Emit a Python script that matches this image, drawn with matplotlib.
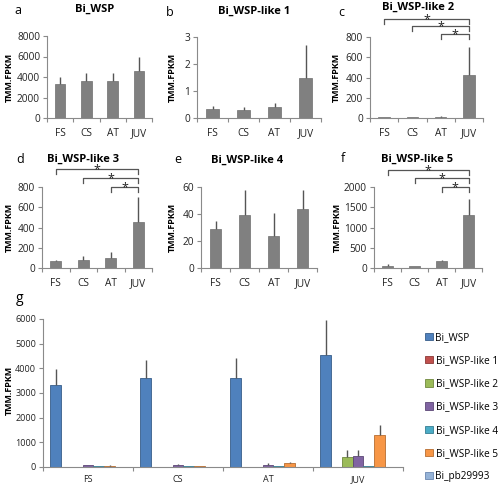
import matplotlib
matplotlib.use("Agg")
import matplotlib.pyplot as plt
import numpy as np

plt.rcParams["font.family"] = ["Open Sans", "DejaVu Sans"]

W, H = 500, 488

stages = ["FS", "CS", "AT", "JUV"]

genes = ["Bi_WSP", "Bi_WSP-like 1", "Bi_WSP-like 2", "Bi_WSP-like 3",
         "Bi_WSP-like 4", "Bi_WSP-like 5", "Bi_pb29993"]

# mean expression per stage (TMM.FPKM)
wsp = [3330, 3600, 3620, 4560]
wsp_like1 = [0.33, 0.28, 0.42, 1.5]
wsp_like2 = [5, 5, 10, 420]
wsp_like3 = [65, 75, 95, 450]
wsp_like4 = [29, 39, 24, 44]
wsp_like5 = [60, 40, 170, 1300]
pb29993 = [12, 10, 10, 12]

# upper error (SD)
wsp_err = [650, 750, 780, 1400]
wsp_like1_err = [0.12, 0.14, 0.13, 1.2]
wsp_like2_err = [3, 3, 10, 285]
wsp_like3_err = [15, 40, 60, 250]
wsp_like4_err = [6, 19, 17, 14]
wsp_like5_err = [40, 15, 25, 400]
pb29993_err = [3, 3, 3, 3]

means = [wsp, wsp_like1, wsp_like2, wsp_like3, wsp_like4, wsp_like5, pb29993]
errs = [wsp_err, wsp_like1_err, wsp_like2_err, wsp_like3_err,
        wsp_like4_err, wsp_like5_err, pb29993_err]

small_ylims = [8000, 3, 800, 800, 60, 2000]
small_yticks = [np.arange(0, 8001, 2000), np.arange(0, 4, 1),
                np.arange(0, 801, 200), np.arange(0, 801, 200),
                np.arange(0, 61, 20), np.arange(0, 2001, 500)]

g_colors = ["#4F81BD", "#C0504D", "#9BBB59", "#8064A2",
            "#4BACC6", "#F79646", "#95B3D7"]
g_edges = ["#385D8A", "#8C3836", "#71893F", "#5C4776",
           "#357D91", "#B66D31", "#6A86B0"]

SPINE = "#8a8a8a"
ERR = "#555555"


def rect(x0, x1, ytop, ybot):
    return [x0 / W, 1 - ybot / H, (x1 - x0) / W, (ybot - ytop) / H]


def ftext(x, y, s, **kw):
    fig.text(x / W, 1 - y / H, s, **kw)


def style_axes(ax, ncat):
    for side in ("top", "right"):
        ax.spines[side].set_visible(False)
    for side in ("left", "bottom"):
        ax.spines[side].set_color(SPINE)
        ax.spines[side].set_linewidth(0.8)
    ax.set_xlim(-0.5, ncat - 0.5)
    ax.set_xticks(np.arange(-0.5, ncat, 1.0), minor=False)
    ax.set_xticklabels([])
    ax.set_xticks(np.arange(ncat), minor=True)
    ax.tick_params(axis="x", which="major", length=3, color=SPINE, width=0.8)
    ax.tick_params(axis="x", which="minor", length=0, pad=7, labelsize=7.3,
                   labelcolor="#222222")
    ax.tick_params(axis="y", length=3, color=SPINE, width=0.8, labelsize=7.3,
                   labelcolor="#222222", pad=2)


fig = plt.figure(figsize=(W / 100, H / 100), dpi=100)

small_rects = [(47, 152, 36, 118), (197, 321, 37, 118), (370, 483, 37, 118),
               (42, 152, 187, 268), (201, 317, 187, 268), (374, 482, 187, 268)]
letters = ["a", "b", "c", "d", "e", "f"]
letter_pos = [(18, 10), (170, 12), (341, 12), (20, 160), (178, 160), (343, 158)]
title_pos = [(95, 9), (254, 11), (418, 7), (83, 159), (247, 160), (417, 159)]
ylabel_x = [9, 172, 336, 9, 172, 337]
# significance brackets (axes-fraction heights) for c, d, f
brackets = {2: [1.222, 1.13, 1.035], 3: [1.22, 1.11, 1.0], 5: [1.21, 1.11, 1.0]}

for i in range(6):
    x0, x1, yt, yb = small_rects[i]
    ax = fig.add_axes(rect(x0, x1, yt, yb))
    gi = i
    x = np.arange(len(stages))
    ax.bar(x, means[gi], width=0.4, color="#808080", edgecolor="#6e6e6e",
           linewidth=0.5, zorder=2)
    ax.errorbar(x, means[gi], yerr=[np.zeros(4), errs[gi]], fmt="none",
                ecolor=ERR, elinewidth=1.0, capsize=0, zorder=3)
    style_axes(ax, 4)
    ax.set_xticklabels(stages, minor=True)
    ax.set_ylim(0, small_ylims[i])
    ax.set_yticks(small_yticks[i])
    ax.set_yticklabels([str(int(v)) for v in small_yticks[i]])

    lx, ly = letter_pos[i]
    ftext(lx, ly, letters[i], fontsize=9, ha="center", va="center")
    tx, ty = title_pos[i]
    ftext(tx, ty, genes[gi], fontsize=8, fontweight="bold", ha="center",
          va="center")
    ftext(ylabel_x[i], (yt + yb) / 2, "TMM.FPKM", fontsize=6.5,
          fontweight="bold", rotation=90, ha="center", va="center")

    if i in brackets:
        trans = ax.get_xaxis_transform()
        drop = 0.06
        for start, yb_ in zip([0, 1, 2], brackets[i]):
            ax.plot([start, start, 3, 3], [yb_ - drop, yb_, yb_, yb_ - drop],
                    transform=trans, color=ERR, lw=0.9, clip_on=False)
            ax.text((start + 3) / 2, yb_ - 0.05, "*", transform=trans,
                    ha="center", va="baseline", fontsize=9,
                    color="#222222")

# panel g
axg = fig.add_axes(rect(43, 403, 319, 467))
n = len(genes)
bw = 0.12
for k in range(n):
    xk = np.arange(len(stages)) - (n - 1) / 2 * bw + k * bw
    axg.bar(xk, means[k], width=bw, color=g_colors[k], edgecolor=g_edges[k],
            linewidth=0.6, label=genes[k], zorder=2)
    axg.errorbar(xk, means[k], yerr=[np.zeros(4), errs[k]], fmt="none",
                 ecolor=ERR, elinewidth=1.0, capsize=0, zorder=3)
style_axes(axg, 4)
axg.set_xticklabels(stages, minor=True)
axg.tick_params(axis="x", which="minor", labelsize=6.5, pad=6)
axg.tick_params(axis="y", labelsize=6.5)
axg.set_ylim(0, 6000)
axg.set_yticks(np.arange(0, 6001, 1000))
ftext(20, 298, "g", fontsize=10, ha="center", va="center")
ftext(9, 390, "TMM.FPKM", fontsize=6.5, fontweight="bold", rotation=90,
      ha="center", va="center")

handles, labels = axg.get_legend_handles_labels()
leg = fig.legend(handles, labels, loc="upper left",
                 bbox_to_anchor=(421 / W, 1 - 328 / H), frameon=False,
                 fontsize=7.2, handlelength=0.75, handleheight=0.75,
                 handletextpad=0.3, labelspacing=1.22, borderaxespad=0)

fig.savefig("out.png", dpi=100)
